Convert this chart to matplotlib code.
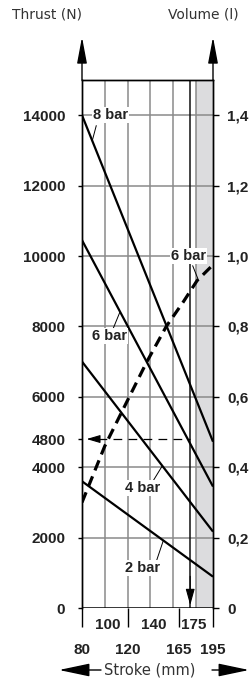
import numpy as np
import matplotlib
matplotlib.use("Agg")
import matplotlib.pyplot as plt

# -------------------------------
# data
# -------------------------------
stroke_ends = [80, 195]
thrust_8bar = [14000, 4725]
thrust_6bar = [10450, 3450]
thrust_4bar = [7000, 2170]
thrust_2bar = [3600, 890]

vol_stroke = [80, 100, 120, 137, 154, 169, 181, 195]
vol_litres = [0.30, 0.46, 0.59, 0.70, 0.80, 0.87, 0.93, 0.975]

left_ticks = [0, 2000, 4000, 4800, 6000, 8000, 10000, 12000, 14000]
right_ticks = [0, 0.2, 0.4, 0.6, 0.8, 1.0, 1.2, 1.4]
right_labels = ["0", "0,2", "0,4", "0,6", "0,8", "1,0", "1,2", "1,4"]
x_low_ticks = [80, 120, 165, 195]
x_high_labels = [100, 140, 175]
x_grid = [100, 120, 140, 160, 180]

marked_thrust = 4800
marked_stroke = 175
shade_from, shade_to = 180, 195

GRID = "#8a8a8a"
TXT = "#222222"
BOLD = "Liberation Sans"
FS = 11

fig = plt.figure(figsize=(2.53, 6.82), dpi=100)
W, H = 253, 682
ax = fig.add_axes([82 / W, 74 / H, 131 / W, 528 / H])
ax.set_xlim(80, 195)
ax.set_ylim(0, 15000)

# shaded zone + grid
ax.axvspan(shade_from, shade_to, color="#dcdcde", lw=0, zorder=0)
for g in x_grid:
    ax.axvline(g, color=GRID, lw=1.1, zorder=1)
for g in range(2000, 15000, 2000):
    ax.axhline(g, color=GRID, lw=1.1, zorder=1)
ax.axvline(marked_stroke, color="#111111", lw=1.1, zorder=2)

# thrust lines
for t in [thrust_8bar, thrust_6bar, thrust_4bar, thrust_2bar]:
    ax.plot(stroke_ends, t, color="black", lw=1.6, zorder=4, solid_capstyle="butt")

# volume (second scale)
ax2 = ax.twinx()
ax2.set_ylim(0, 1.5)
ax2.plot(vol_stroke, vol_litres, color="black", lw=2.3, dashes=(3.4, 2.0), zorder=4)

# 4800 marker: dashed horizontal, arrow to axis, arrow down at 175
ax.plot([94, marked_stroke], [marked_thrust, marked_thrust], color="black", lw=0.9,
        dashes=(7, 5), zorder=3)
ax.annotate("", xy=(84, marked_thrust), xytext=(95, marked_thrust),
            arrowprops=dict(arrowstyle="-|>,head_length=0.75,head_width=0.22",
                            mutation_scale=11, color="black", lw=0.8,
                            shrinkA=0, shrinkB=0), zorder=5)
ax.annotate("", xy=(marked_stroke, 80), xytext=(marked_stroke, 900),
            arrowprops=dict(arrowstyle="-|>,head_length=0.9,head_width=0.25",
                            mutation_scale=11, color="black", lw=0.8,
                            shrinkA=0, shrinkB=0), zorder=5)

# curve labels with leaders
box = dict(facecolor="white", edgecolor="none", pad=0.6)
lab = dict(fontsize=10.5, fontweight="bold", family=BOLD, color=TXT, ha="center",
           va="center", bbox=box, zorder=6)


def leader(x0, y0, xs, ys, x1, axis=ax):
    y1 = np.interp(x1, xs, ys)
    axis.plot([x0, x1], [y0, y1], color="black", lw=0.7, zorder=5)


ax.text(105, 14000, "8 bar", **lab)
leader(92.5, 13700, stroke_ends, thrust_8bar, 89)
ax.text(104.6, 7720, "6 bar", **lab)
leader(107.5, 7950, stroke_ends, thrust_6bar, 113.4)
ax.text(133.4, 3400, "4 bar", **lab)
leader(142.6, 3620, stroke_ends, thrust_4bar, 150.5)
ax.text(133, 1128, "2 bar", **lab)
leader(145.6, 1360, stroke_ends, thrust_2bar, 151.4)
ax2.text(173.5, 1.0, "6 bar", **lab)
leader(177.2, 0.972, vol_stroke, vol_litres, 182, axis=ax2)

# axes frame and ticks
for a in (ax, ax2):
    a.spines["bottom"].set_visible(False)
    for s in ["left", "right", "top"]:
        a.spines[s].set_linewidth(1.0)
        a.spines[s].set_color("black")
ax.axhline(0, color="black", lw=1.1, zorder=3)

ax.set_yticks(left_ticks)
ax.set_yticklabels([str(v) for v in left_ticks])
ax.tick_params(axis="y", direction="out", length=3, width=1, pad=9,
               labelsize=FS, labelcolor=TXT)

ax2.set_yticks(right_ticks)
ax2.set_yticklabels(right_labels)
ax2.tick_params(axis="y", direction="out", length=4, width=1, pad=6,
                labelsize=FS, labelcolor=TXT)

ax.set_xticks(x_low_ticks)
ax.set_xticklabels([str(v) for v in x_low_ticks])
ax.tick_params(axis="x", direction="out", length=14, width=1, pad=11,
               labelsize=FS, labelcolor=TXT)
for lbl in ax.get_yticklabels() + ax2.get_yticklabels() + ax.get_xticklabels():
    lbl.set_fontweight("bold")
    lbl.set_family(BOLD)
for v in x_high_labels:
    ax.annotate(str(v), xy=(v + 3, 0), xycoords=("data", "axes fraction"),
                xytext=(0, -12), textcoords="offset points", ha="center", va="center",
                fontsize=FS, fontweight="bold", family=BOLD, color=TXT)

# arrows on top of the vertical axes
for xf in (0, 1):
    ax.annotate("", xy=(xf, 1 + 43 / 528), xytext=(xf, 1), xycoords="axes fraction",
                arrowprops=dict(arrowstyle="-|>,head_length=1.6,head_width=0.3",
                                mutation_scale=10, color="black", lw=1.0,
                                shrinkA=0, shrinkB=0), annotation_clip=False)

# titles
fig.text(47 / W, 1 - 15 / H, "Thrust (N)", ha="center", va="center", fontsize=10, color="#333333")
fig.text(203 / W, 1 - 15 / H, "Volume (l)", ha="center", va="center", fontsize=10, color="#333333")

# stroke label with arrows
fig.text(150 / W, 12 / H, "Stroke (mm)", ha="center", va="center", fontsize=10.5, color="#333333")
arrow = dict(arrowstyle="-|>,head_length=1.9,head_width=0.4", mutation_scale=10,
             color="black", lw=1.0, shrinkA=0, shrinkB=0)
fig.add_artist(matplotlib.patches.FancyArrowPatch((101, 12), (59, 12), transform=None, **arrow))
fig.add_artist(matplotlib.patches.FancyArrowPatch((212, 12), (249, 12), transform=None, **arrow))

fig.savefig("out.png", dpi=100)
